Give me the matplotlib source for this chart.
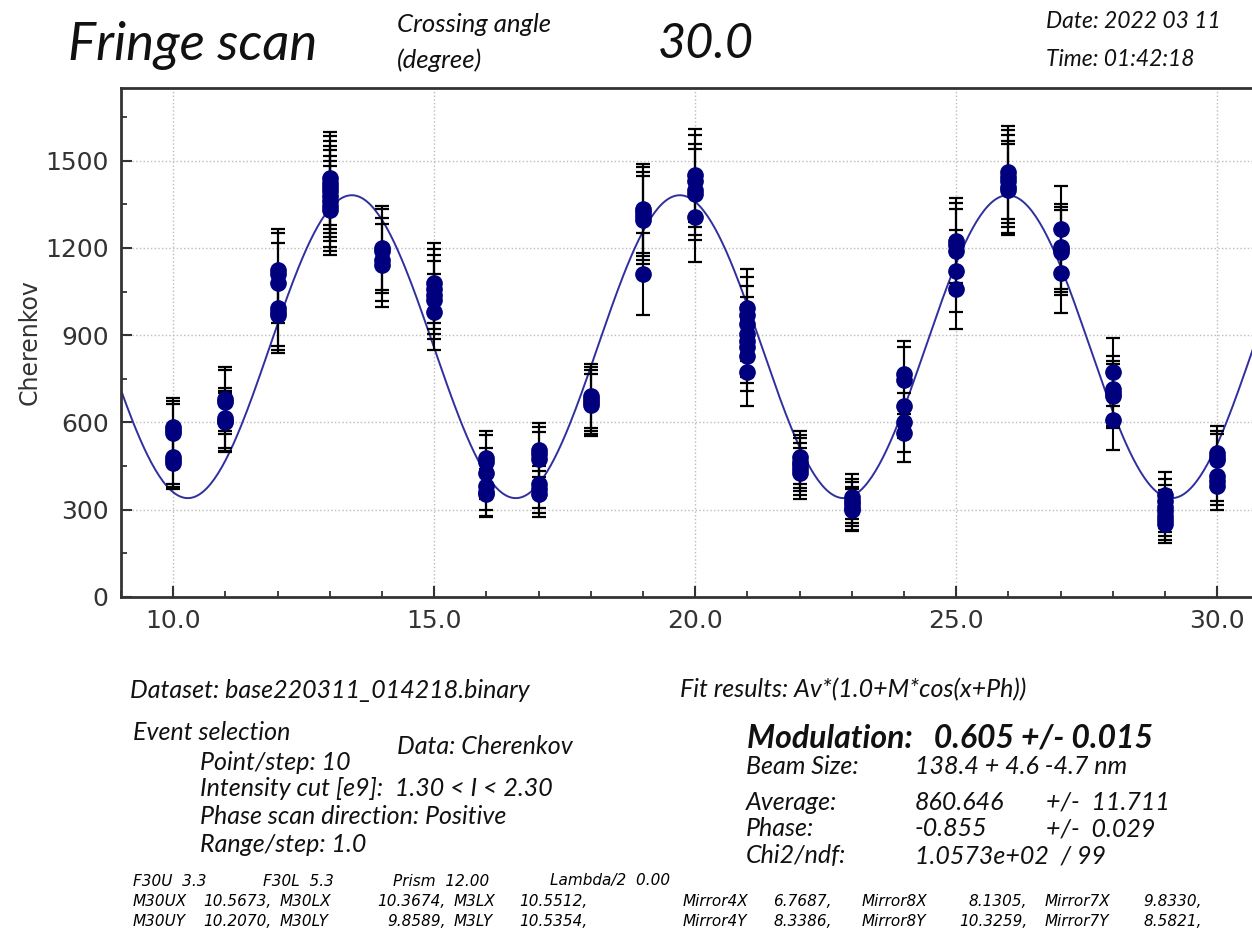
import numpy as np
import matplotlib
matplotlib.use('Agg')
import matplotlib.pyplot as plt
from matplotlib.ticker import MultipleLocator, FormatStrFormatter

plt.rcParams['font.family'] = 'DejaVu Sans'

# scan positions and measured Cherenkov signal (several shots per step)
positions = [10, 11, 12, 13, 14, 15, 16, 17, 18, 19, 20,
             21, 22, 23, 24, 25, 26, 27, 28, 29, 30]
cherenkov = [
    [585, 575, 565, 480, 470, 462],
    [680, 670, 615, 605, 600],
    [1125, 1110, 1080, 995, 980, 970],
    [1440, 1425, 1410, 1395, 1380, 1360, 1345, 1330],
    [1200, 1190, 1160, 1140],
    [1080, 1060, 1040, 1020, 980],
    [478, 465, 425, 380, 360, 355],
    [505, 490, 475, 390, 370, 355],
    [690, 680, 670, 660],
    [1335, 1325, 1310, 1295, 1110],
    [1450, 1430, 1400, 1385, 1305],
    [995, 970, 940, 905, 880, 860, 830, 775],
    [480, 465, 455, 440, 425],
    [345, 330, 320, 305, 300],
    [765, 745, 655, 600, 565],
    [1225, 1210, 1190, 1120, 1060],
    [1460, 1445, 1430, 1410, 1400],
    [1265, 1205, 1195, 1185, 1115],
    [775, 715, 700, 690, 610],
    [350, 330, 310, 295, 280, 265, 250],
    [495, 480, 470, 415, 400, 380],
]
cherenkov_err = [
    [100, 100, 100, 92, 91, 90],
    [110, 109, 104, 103, 103],
    [141, 140, 138, 132, 131, 131],
    [160, 159, 158, 157, 156, 155, 154, 153],
    [145, 145, 143, 142],
    [138, 137, 135, 134, 131],
    [92, 91, 87, 82, 80, 79],
    [94, 93, 92, 83, 81, 79],
    [110, 110, 109, 108],
    [153, 153, 152, 151, 140],
    [160, 159, 157, 156, 152],
    [132, 131, 129, 126, 125, 123, 121, 117],
    [92, 91, 90, 88, 87],
    [78, 76, 75, 73, 73],
    [116, 115, 108, 103, 100],
    [147, 146, 145, 141, 137],
    [160, 160, 159, 158, 157],
    [149, 146, 145, 145, 140],
    [117, 112, 111, 110, 104],
    [79, 76, 74, 72, 70, 68, 66],
    [94, 92, 91, 86, 84, 82],
]

# fit results Av*(1.0+M*cos(x+Ph))
average = 860.646
modulation = 0.605
phase = -0.855

W, H = 1252, 934
fig = plt.figure(figsize=(W / 100, H / 100), dpi=100)

def fx(x):
    return x / W

def fy(y):
    return 1 - y / H

ax_left, ax_right, ax_top, ax_bot = 121, 1265, 88, 597
ax = fig.add_axes([fx(ax_left), fy(ax_bot), fx(ax_right - ax_left), (ax_bot - ax_top) / H])

xs, ys, es = [], [], []
for p, vals, errs in zip(positions, cherenkov, cherenkov_err):
    xs += [p] * len(vals)
    ys += vals
    es += errs

xmin = 9.0
xmax = xmin + (ax_right - ax_left) / 52.2
xfit = np.linspace(xmin, xmax, 600)
yfit = average * (1.0 + modulation * np.cos(xfit + phase))
ax.plot(xfit, yfit, color='#2f2f9f', lw=1.4, zorder=2)

ax.errorbar(xs, ys, yerr=es, fmt='o', color='#00007f', ms=11, mec='#00007f',
            ecolor='black', elinewidth=1.5, capsize=5, capthick=1.6, zorder=3)

ax.set_xlim(xmin, xmax)
ax.set_ylim(0, 1750)
ax.xaxis.set_major_locator(MultipleLocator(5))
ax.xaxis.set_minor_locator(MultipleLocator(1))
ax.xaxis.set_major_formatter(FormatStrFormatter('%.1f'))
ax.yaxis.set_major_locator(MultipleLocator(300))
ax.yaxis.set_minor_locator(MultipleLocator(150))
ax.grid(True, which='major', ls=':', color='#bbbbbb', lw=1.0)
ax.tick_params(which='major', direction='in', length=8, width=1.5, color='#333333',
               labelsize=18, labelcolor='#333333')
ax.tick_params(which='minor', direction='in', length=4, width=1.3, color='#333333')
ax.tick_params(axis='x', which='major', pad=9)
ax.tick_params(axis='y', which='major', pad=9)
for s in ax.spines.values():
    s.set_linewidth(2)
    s.set_color('#333333')
ax.set_ylabel('Cherenkov', fontsize=17, color='#333333', labelpad=2)

it = dict(family='Lato', style='italic', color='#111111', va='center', ha='left')

# header
fig.text(fx(68), fy(45), 'Fringe scan', fontsize=38, **it)
fig.text(fx(397), fy(24), 'Crossing angle', fontsize=18.5, **it)
fig.text(fx(397), fy(60), '(degree)', fontsize=18.5, **it)
fig.text(fx(658), fy(44), '30.0', fontsize=35, **it)
fig.text(fx(1046), fy(22), 'Date: 2022 03 11', fontsize=16.5, **it)
fig.text(fx(1046), fy(60), 'Time: 01:42:18', fontsize=16.5, **it)

# run info
fs = 18
fig.text(fx(130), fy(690), 'Dataset: base220311_014218.binary', fontsize=fs, **it)
fig.text(fx(680), fy(690), 'Fit results: Av*(1.0+M*cos(x+Ph))', fontsize=fs, **it)
fig.text(fx(133), fy(732), 'Event selection', fontsize=fs, **it)
fig.text(fx(397), fy(747), 'Data: Cherenkov', fontsize=fs, **it)
fig.text(fx(200), fy(762), 'Point/step: 10', fontsize=fs, **it)
fig.text(fx(200), fy(789), 'Intensity cut [e9]:  1.30 < I < 2.30', fontsize=fs, **it)
fig.text(fx(200), fy(816), 'Phase scan direction: Positive', fontsize=fs, **it)
fig.text(fx(200), fy(844), 'Range/step: 1.0', fontsize=fs, **it)

fig.text(fx(747), fy(738), 'Modulation:   0.605 +/- 0.015', fontsize=23, fontweight='bold', **it)
fig.text(fx(746), fy(766), 'Beam Size:', fontsize=fs, **it)
fig.text(fx(915), fy(766), '138.4 + 4.6 -4.7 nm', fontsize=fs, **it)
fig.text(fx(746), fy(802), 'Average:', fontsize=fs, **it)
fig.text(fx(915), fy(802), '860.646', fontsize=fs, **it)
fig.text(fx(1046), fy(802), '+/-  11.711', fontsize=fs, **it)
fig.text(fx(746), fy(829), 'Phase:', fontsize=fs, **it)
fig.text(fx(915), fy(829), '-0.855', fontsize=fs, **it)
fig.text(fx(1046), fy(829), '+/-  0.029', fontsize=fs, **it)
fig.text(fx(746), fy(856), 'Chi2/ndf:', fontsize=fs, **it)
fig.text(fx(915), fy(856), '1.0573e+02  / 99', fontsize=fs, **it)

# mirror / optics settings
sm = dict(family='DejaVu Sans', style='italic', fontsize=11, color='black', va='center')
fig.text(fx(133), fy(881), 'F30U  3.3', ha='left', **sm)
fig.text(fx(263), fy(881), 'F30L  5.3', ha='left', **sm)
fig.text(fx(393), fy(881), 'Prism  12.00', ha='left', **sm)
fig.text(fx(550), fy(881), 'Lambda/2  0.00', ha='left', **sm)
rows = [
    ['M30UX', '10.5673,', 'M30LX', '10.3674,', 'M3LX', '10.5512,',
     'Mirror4X', '6.7687,', 'Mirror8X', '8.1305,', 'Mirror7X', '9.8330,'],
    ['M30UY', '10.2070,', 'M30LY', '9.8589,', 'M3LY', '10.5354,',
     'Mirror4Y', '8.3386,', 'Mirror8Y', '10.3259,', 'Mirror7Y', '8.5821,'],
]
name_x = [133, 280, 454, 683, 862, 1045]
val_right = [272, 446, 588, 832, 1027, 1202]
for row, y in zip(rows, [902, 921]):
    for k in range(6):
        fig.text(fx(name_x[k]), fy(y), row[2 * k], ha='left', **sm)
        fig.text(fx(val_right[k]), fy(y), row[2 * k + 1], ha='right', **sm)

fig.savefig('out.png', dpi=100)
